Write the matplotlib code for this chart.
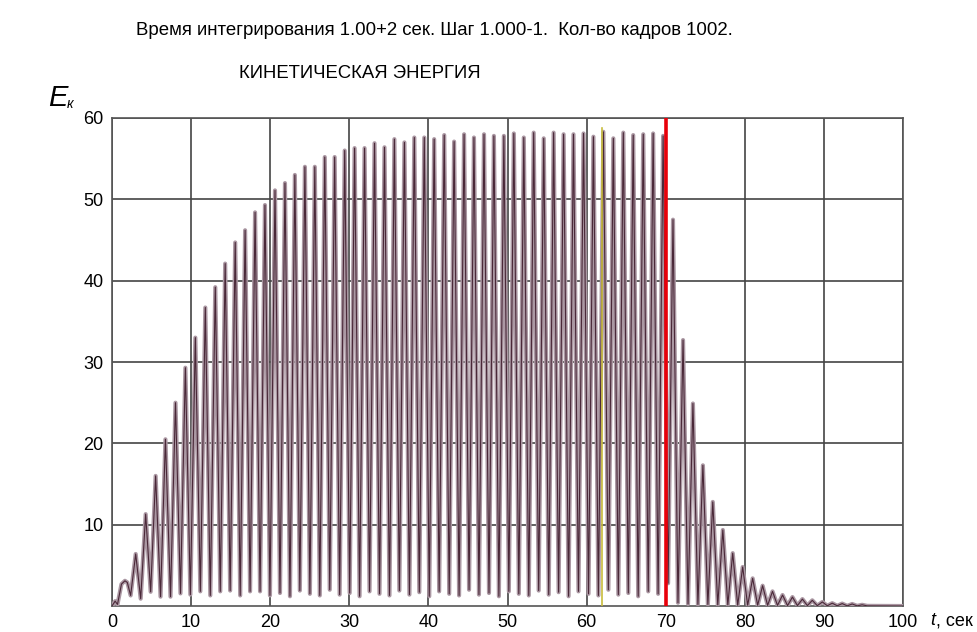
import numpy as np
import matplotlib
matplotlib.use("Agg")
import matplotlib.pyplot as plt
import matplotlib.patheffects as pe

plt.rcParams['font.family'] = ['Liberation Sans', 'DejaVu Sans']

# начальный участок (до первого выраженного максимума)
start_t = [0.0, 0.4, 0.7, 1.2, 1.64, 1.94, 2.36]
start_e = [0.0, 0.6, 0.2, 2.7, 3.1, 2.9, 1.3]

# максимумы кинетической энергии
peak_t = [3.00, 4.26, 5.52, 6.76, 8.03, 9.28, 10.54, 11.80, 13.06, 14.31,
          15.58, 16.83, 18.09, 19.34, 20.61, 21.87, 23.12, 24.39, 25.64, 26.90,
          28.15, 29.42, 30.67, 31.93, 33.19, 34.45, 35.70, 36.97, 38.22, 39.48,
          40.73, 42.00, 43.25, 44.51, 45.76, 47.03, 48.28, 49.54, 50.80, 52.06,
          53.31, 54.58, 55.83, 57.09, 58.34, 59.61, 60.86, 62.12, 63.38, 64.64,
          65.89, 67.16, 68.41, 69.67, 70.92, 72.19, 73.44, 74.70, 75.95, 77.22,
          78.47, 79.73, 80.99, 82.25, 83.50, 84.77, 86.02, 87.28, 88.53, 89.80,
          91.05, 92.31, 93.57, 94.83]
peak_e = [6.4, 11.3, 16.0, 20.5, 25.0, 29.3, 33.0, 36.7, 39.2, 42.1,
          44.7, 46.2, 48.4, 49.3, 51.1, 52.0, 53.0, 54.0, 54.0, 55.2,
          55.2, 56.0, 56.3, 56.3, 56.9, 56.4, 57.4, 57.0, 57.6, 57.6,
          57.4, 57.9, 57.1, 58.0, 57.6, 58.0, 57.8, 57.8, 58.1, 57.6,
          58.2, 57.5, 58.2, 58.0, 58.0, 58.1, 57.7, 58.3, 57.5, 58.2,
          57.9, 58.0, 58.1, 57.8, 47.5, 32.7, 24.9, 17.3, 12.8, 9.35,
          6.5, 4.8, 3.4, 2.5, 1.8, 1.35, 1.1, 0.85, 0.7, 0.5,
          0.35, 0.3, 0.25, 0.15]

# минимумы после каждого максимума
trough_t = [3.63, 4.89, 6.14, 7.40, 8.66, 9.91, 11.17, 12.43, 13.69, 14.94,
            16.21, 17.46, 18.72, 19.97, 21.24, 22.50, 23.75, 25.02, 26.27, 27.53,
            28.78, 30.05, 31.30, 32.56, 33.82, 35.08, 36.33, 37.60, 38.85, 40.11,
            41.36, 42.63, 43.88, 45.14, 46.39, 47.66, 48.91, 50.17, 51.43, 52.69,
            53.94, 55.21, 56.46, 57.72, 58.97, 60.24, 61.49, 62.75, 64.01, 65.27,
            66.52, 67.79, 69.04, 70.30, 71.55, 72.82, 74.07, 75.33, 76.58, 77.85,
            79.10, 80.36, 81.62, 82.88, 84.13, 85.40, 86.65, 87.91, 89.16, 90.43,
            91.68, 92.94, 94.20, 95.46]
trough_e = [0.9, 1.75, 1.15, 1.15, 1.55, 1.4, 1.8, 1.3, 1.8, 1.9,
            1.3, 1.8, 1.8, 1.3, 1.6, 1.2, 1.9, 1.5, 1.3, 2.0,
            1.4, 1.6, 1.2, 1.8, 1.5, 1.3, 1.9, 1.4, 1.7, 1.2,
            1.8, 1.5, 1.3, 2.0, 1.4, 1.6, 1.2, 1.8, 1.5, 1.3,
            1.9, 1.4, 1.7, 1.2, 1.8, 1.5, 1.3, 2.0, 1.4, 1.6,
            1.2, 1.8, 1.5, 2.8, 0.4, 0.25, 0.2, 0.2, 0.15, 0.15,
            0.1, 0.1, 0.1, 0.08, 0.08, 0.05, 0.05, 0.05, 0.04, 0.03,
            0.03, 0.02, 0.02, 0.02]

end_t = [100.0]
end_e = [0.0]

t_red = 70.0
t_yellow = 62.0
yellow_top = 58.8

x_ticks = list(range(0, 101, 10))
y_ticks = list(range(10, 61, 10))

# собираем кривую: пик -> минимум -> пик ...
t = list(start_t)
e = list(start_e)
for pt, pv, tt, tv in zip(peak_t, peak_e, trough_t, trough_e):
    t += [pt, tt]
    e += [pv, tv]
t += end_t
e += end_e

fig = plt.figure(figsize=(9.77, 6.32), dpi=100)
ax = fig.add_axes([0.1146, 0.0411, 0.8097, 0.7722])

ax.set_xlim(0, 100)
ax.set_ylim(0, 60)
ax.set_xticks(x_ticks)
ax.set_yticks(y_ticks)
ax.tick_params(length=0, labelsize=13, pad=6)
ax.grid(True, color='#444444', linewidth=1.2)
ax.set_axisbelow(True)
for s in ax.spines.values():
    s.set_color('#555555')
    s.set_linewidth(1.2)

ax.plot(t, e, color='#4a2838', linewidth=0.8,
        path_effects=[pe.Stroke(linewidth=3.0, foreground='#ab98a3'), pe.Normal()],
        zorder=3)

ax.plot([t_yellow, t_yellow], [0, yellow_top], color='#c8bc3c', linewidth=1.2, zorder=4)
ax.axvline(t_red, color='#e8000a', linewidth=2.6, zorder=5)

fig.text(0.4445, 0.952, 'Время интегрирования 1.00+2 сек. Шаг 1.000-1.  Кол-во кадров 1002.',
         ha='center', va='center', fontsize=13.4)
fig.text(0.3685, 0.884, 'КИНЕТИЧЕСКАЯ ЭНЕРГИЯ', ha='center', va='center', fontsize=13.3)
fig.text(0.049, 0.845, 'E', ha='left', va='center', fontsize=21, style='italic')
fig.text(0.068, 0.835, 'к', ha='left', va='center', fontsize=10, style='italic')
fig.text(0.952, 0.018, 't', ha='left', va='center', fontsize=13, style='italic')
fig.text(0.9585, 0.018, ', сек', ha='left', va='center', fontsize=13)

fig.savefig('out.png', dpi=100, facecolor='white')
